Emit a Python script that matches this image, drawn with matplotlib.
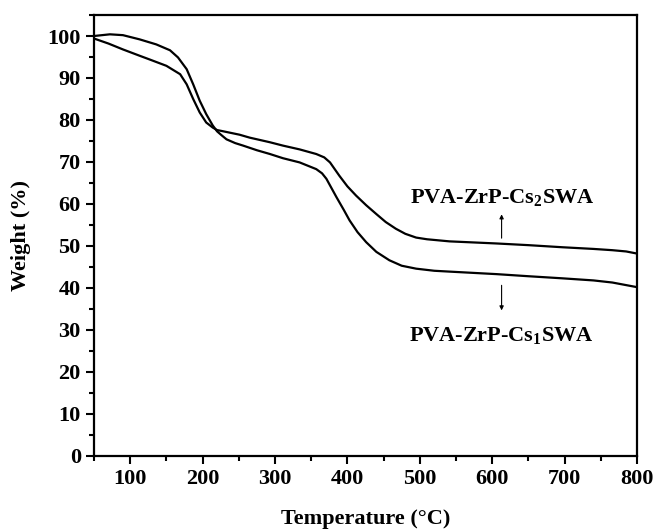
import matplotlib
matplotlib.use("Agg")
import matplotlib.pyplot as plt
from matplotlib.ticker import MultipleLocator

plt.rcParams['font.family'] = ['Liberation Serif', 'DejaVu Serif']
plt.rcParams['font.weight'] = 'bold'
plt.rcParams['mathtext.fontset'] = 'custom'
plt.rcParams['mathtext.default'] = 'bf'
plt.rcParams['mathtext.bf'] = 'Liberation Serif:bold'
plt.rcParams['mathtext.rm'] = 'Liberation Serif:bold'

# PVA-ZrP-Cs2SWA: temperature (deg C) / weight (%)
t_cs2 = [50, 70, 90, 113, 127, 150, 169, 178, 187, 196, 205, 214, 220, 226,
         251, 265, 293, 311, 334, 357, 368, 376, 389, 400, 412, 426, 440, 453,
         467, 480, 495, 510, 541, 580, 606, 650, 697, 740, 766, 785, 800]
w_cs2 = [99.4, 98.2, 96.8, 95.3, 94.4, 92.9, 90.9, 88.5, 85.0, 81.8, 79.4,
         78.2, 77.6, 77.4, 76.5, 75.8, 74.7, 73.9, 73.0, 71.9, 71.1, 69.9,
         66.7, 64.2, 62.0, 59.7, 57.6, 55.7, 54.1, 52.9, 52.0, 51.6, 51.1,
         50.8, 50.6, 50.2, 49.7, 49.3, 49.0, 48.7, 48.2]

# PVA-ZrP-Cs1SWA: temperature (deg C) / weight (%)
t_cs1 = [50, 72, 90, 113, 136, 155, 166, 178, 187, 196, 205, 214, 220, 226,
         233, 245, 256, 275, 293, 311, 334, 357, 365, 371, 378, 385, 395, 403,
         414, 426, 440, 458, 475, 495, 520, 541, 606, 650, 697, 740, 766, 800]
w_cs1 = [100.0, 100.4, 100.2, 99.2, 98.0, 96.6, 94.9, 92.1, 88.5, 84.6, 81.4,
         78.7, 77.3, 76.4, 75.4, 74.5, 73.9, 72.8, 71.9, 70.9, 69.9, 68.3,
         67.3, 66.0, 63.8, 61.6, 58.6, 56.1, 53.3, 50.9, 48.6, 46.6, 45.3,
         44.6, 44.1, 43.9, 43.3, 42.8, 42.3, 41.8, 41.3, 40.2]

fig = plt.figure(figsize=(6.56, 5.32), dpi=100)
ax = fig.add_axes([0.1433, 0.1429, 0.8277, 0.8289])

ax.plot(t_cs2, w_cs2, color='black', lw=1.6, solid_joinstyle='round')
ax.plot(t_cs1, w_cs1, color='black', lw=1.6, solid_joinstyle='round')

ax.set_xlim(50, 800)
ax.set_ylim(0, 105)
ax.xaxis.set_major_locator(MultipleLocator(100))
ax.xaxis.set_minor_locator(MultipleLocator(50))
ax.yaxis.set_major_locator(MultipleLocator(10))
ax.yaxis.set_minor_locator(MultipleLocator(5))
ax.tick_params(which='major', direction='out', length=6, width=1.5, labelsize=16)
ax.tick_params(which='minor', direction='out', length=3.5, width=1.5)
for s in ax.spines.values():
    s.set_linewidth(1.6)

ax.set_xlabel('Temperature (°C)', fontsize=16, fontweight='bold', labelpad=14)
ax.set_ylabel('Weight (%)', fontsize=16, fontweight='bold', labelpad=12)

# annotations
ax.annotate('', xy=(613, 58.2), xytext=(613, 51.2),
            arrowprops=dict(arrowstyle='-|>', color='black', lw=0.8, mutation_scale=6))
ax.text(614, 61.5, 'PVA-ZrP-Cs$_2$SWA', ha='center', va='center', fontsize=16)
ax.annotate('', xy=(613, 34.0), xytext=(613, 41.3),
            arrowprops=dict(arrowstyle='-|>', color='black', lw=0.8, mutation_scale=6))
ax.text(612, 28.7, 'PVA-ZrP-Cs$_1$SWA', ha='center', va='center', fontsize=16)

fig.savefig('out.png', dpi=100)
